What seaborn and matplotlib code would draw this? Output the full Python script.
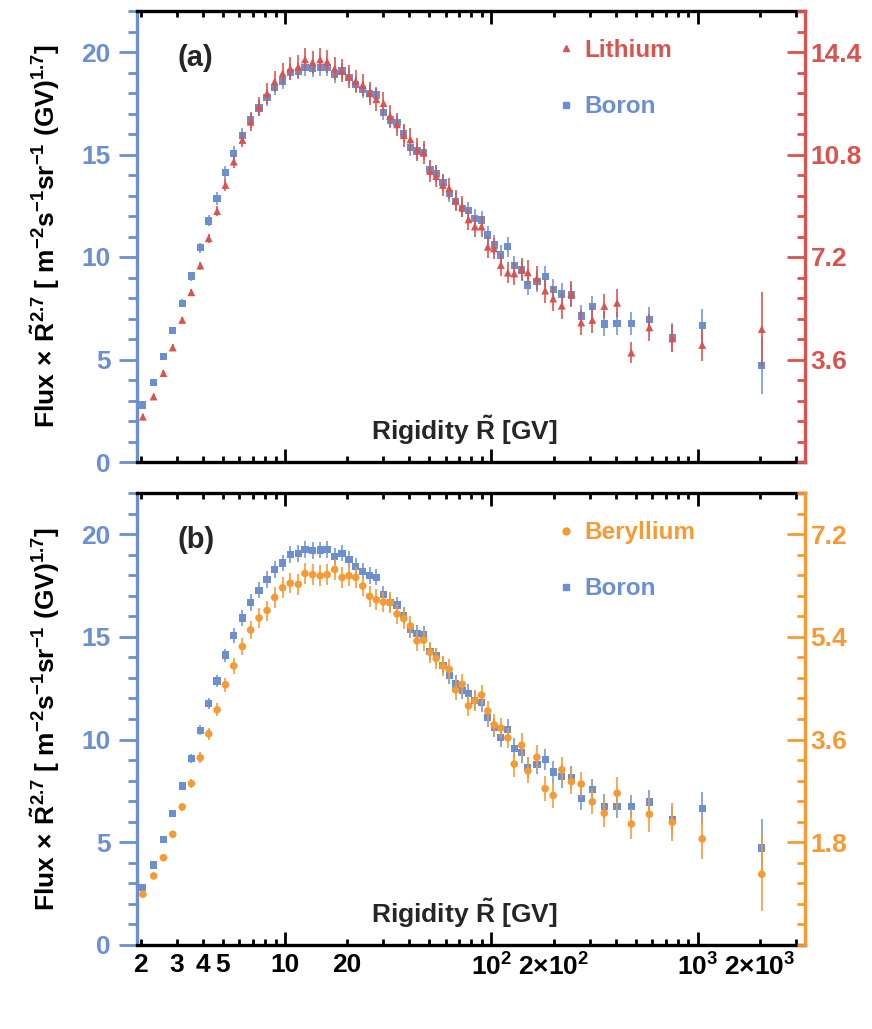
import numpy as np
import pandas as pd
import matplotlib
matplotlib.use("Agg")
import matplotlib.pyplot as plt
import seaborn as sns
from matplotlib.ticker import FixedLocator, FuncFormatter, MultipleLocator, LogLocator, NullFormatter
from matplotlib.lines import Line2D

# ---------------- data ----------------
rigidity = [2.05, 2.31, 2.58, 2.86, 3.18, 3.52, 3.89, 4.27, 4.69, 5.15,
            5.65, 6.22, 6.82, 7.49, 8.19, 8.91, 9.74, 10.6, 11.6, 12.5,
            13.6, 14.8, 16.0, 17.4, 18.9, 20.4, 22.0, 23.8, 25.7, 27.7,
            30.0, 32.3, 34.9, 37.6, 40.5, 43.6, 46.9, 50.4, 54.0, 58.2,
            62.4, 67.0, 72.1, 77.4, 83.1, 89.5, 96.0, 103, 111, 120,
            129, 140, 150, 166, 182, 199, 219, 244, 272, 308,
            352, 406, 476, 582, 751, 1049, 2038]

boron = [2.78, 3.89, 5.14, 6.41, 7.74, 9.07, 10.45, 11.76, 12.85, 14.11,
         15.06, 15.92, 16.68, 17.27, 17.79, 18.28, 18.59, 19.01, 19.06, 19.25,
         19.20, 19.23, 19.25, 18.91, 19.07, 18.77, 18.42, 18.18, 17.98, 17.90,
         17.06, 16.68, 16.55, 16.03, 15.35, 15.17, 15.11, 14.28, 14.08, 13.62,
         13.11, 12.70, 12.38, 12.26, 11.89, 11.80, 11.07, 10.59, 10.10, 10.50,
         9.58, 9.37, 8.63, 8.80, 9.04, 8.42, 8.20, 8.15, 7.12, 7.58,
         6.73, 6.75, 6.75, 6.96, 6.08, 6.65, 4.72]
boron_err = [0.15, 0.15, 0.17, 0.18, 0.20, 0.22, 0.25, 0.27, 0.30, 0.32,
             0.35, 0.37, 0.40, 0.40, 0.40, 0.40, 0.40, 0.40, 0.40, 0.40,
             0.40, 0.40, 0.40, 0.40, 0.40, 0.40, 0.40, 0.40, 0.40, 0.40,
             0.40, 0.40, 0.40, 0.40, 0.40, 0.40, 0.40, 0.40, 0.40, 0.40,
             0.42, 0.42, 0.43, 0.44, 0.45, 0.45, 0.46, 0.47, 0.48, 0.48,
             0.48, 0.50, 0.50, 0.50, 0.52, 0.52, 0.55, 0.55, 0.56, 0.50,
             0.60, 0.55, 0.55, 0.60, 0.70, 0.80, 1.40]

lithium = [1.59, 2.30, 3.12, 4.02, 4.99, 5.96, 6.90, 7.86, 8.81, 9.73,
           10.55, 11.31, 11.95, 12.48, 12.95, 13.36, 13.65, 13.82, 13.88, 14.14,
           14.04, 14.14, 14.06, 13.82, 13.74, 13.54, 13.38, 13.24, 12.95, 12.74,
           12.60, 12.15, 11.86, 11.48, 11.33, 10.98, 10.86, 10.22, 10.04, 9.73,
           9.61, 9.18, 8.97, 8.52, 8.27, 8.27, 7.56, 7.50, 6.92, 6.65,
           6.62, 6.77, 6.66, 6.45, 6.02, 5.74, 5.49, 5.90, 4.90, 4.99,
           5.48, 5.59, 3.84, 4.73, 4.34, 4.11, 4.67]
lithium_err = [0.09, 0.10, 0.10, 0.11, 0.12, 0.13, 0.14, 0.16, 0.18, 0.20,
               0.23, 0.26, 0.32, 0.34, 0.36, 0.37, 0.38, 0.39, 0.40, 0.40,
               0.40, 0.40, 0.40, 0.40, 0.40, 0.40, 0.40, 0.40, 0.40, 0.40,
               0.40, 0.40, 0.40, 0.40, 0.40, 0.40, 0.40, 0.38, 0.38, 0.38,
               0.38, 0.38, 0.38, 0.38, 0.38, 0.38, 0.38, 0.38, 0.38, 0.38,
               0.40, 0.40, 0.42, 0.42, 0.42, 0.42, 0.45, 0.45, 0.45, 0.45,
               0.42, 0.48, 0.36, 0.48, 0.48, 0.56, 1.30]

beryllium = [0.89, 1.21, 1.53, 1.94, 2.42, 2.83, 3.28, 3.70, 4.12, 4.56,
             4.89, 5.23, 5.52, 5.73, 5.86, 6.09, 6.26, 6.34, 6.32, 6.51,
             6.49, 6.47, 6.49, 6.58, 6.44, 6.47, 6.44, 6.29, 6.11, 6.05,
             6.01, 6.00, 5.80, 5.72, 5.59, 5.33, 5.34, 5.13, 5.02, 4.89,
             4.83, 4.47, 4.57, 4.19, 4.28, 4.38, 4.10, 3.86, 3.80, 3.63,
             3.17, 3.50, 3.05, 3.29, 2.74, 2.62, 3.07, 2.86, 2.82, 2.51,
             2.31, 2.66, 2.12, 2.29, 2.15, 1.86, 1.24]
beryllium_err = [0.043, 0.047, 0.054, 0.065, 0.072, 0.080, 0.094, 0.108, 0.115, 0.126,
                 0.144, 0.151, 0.165, 0.170, 0.175, 0.180, 0.180, 0.180, 0.180, 0.180,
                 0.180, 0.180, 0.180, 0.180, 0.180, 0.180, 0.180, 0.180, 0.180, 0.180,
                 0.180, 0.180, 0.180, 0.180, 0.180, 0.180, 0.180, 0.180, 0.180, 0.180,
                 0.180, 0.180, 0.180, 0.180, 0.180, 0.180, 0.180, 0.180, 0.180, 0.180,
                 0.220, 0.220, 0.220, 0.220, 0.220, 0.220, 0.220, 0.220, 0.220, 0.220,
                 0.240, 0.290, 0.270, 0.310, 0.330, 0.360, 0.650]

xtick_values = [2, 3, 4, 5, 10, 20, 100, 200, 1000, 2000]
xtick_labels = ["2", "3", "4", "5", "10", "20", r"$10^{2}$", r"$2{\times}10^{2}$",
                r"$10^{3}$", r"$2{\times}10^{3}$"]
left_ticks = [0, 5, 10, 15, 20]
li_ticks = [3.6, 7.2, 10.8, 14.4]
be_ticks = [1.8, 3.6, 5.4, 7.2]

BLUE = "#6b8fd0"
RED = "#d9534f"
ORANGE = "#f79a33"

# ---------------- style ----------------
sns.set_theme(style="ticks")
plt.rcParams["font.family"] = ["Liberation Sans", "DejaVu Sans"]
plt.rcParams["font.weight"] = "bold"
plt.rcParams["mathtext.fontset"] = "custom"
plt.rcParams["mathtext.rm"] = "Liberation Sans:bold"
plt.rcParams["mathtext.it"] = "Liberation Sans:bold"
plt.rcParams["mathtext.bf"] = "Liberation Sans:bold"
plt.rcParams["mathtext.sf"] = "Liberation Sans:bold"
plt.rcParams["mathtext.default"] = "rm"

FS = 19
LFS = 17.5

df = pd.DataFrame({"R": rigidity, "B": boron, "Berr": boron_err,
                   "Li": lithium, "Lierr": lithium_err,
                   "Be": beryllium, "Beerr": beryllium_err})

label_map = dict(zip(xtick_values, xtick_labels))


def xfmt(v, pos):
    for val, lab in label_map.items():
        if abs(np.log10(v) - np.log10(val)) < 1e-6:
            return lab
    return ""


fig = plt.figure(figsize=(8.72, 10.29), dpi=100)
W, H = 872.0, 1029.0
ax_top = fig.add_axes([137 / W, 1 - 462 / H, 668 / W, 451 / H])
ax_bot = fig.add_axes([137 / W, 1 - 945 / H, 668 / W, 452 / H])


def panel(ax, col, err, color, marker, msize, name, scale, sec_ticks, tag, show_x):
    ax.set_xscale("log")
    ax.errorbar(df["R"], df["B"], yerr=df["Berr"], fmt="none", ecolor=BLUE,
                elinewidth=1.3, alpha=0.85, zorder=2)
    sns.scatterplot(data=df, x="R", y="B", ax=ax, marker="s", s=27, color=BLUE,
                    edgecolor="none", linewidth=0, zorder=3)
    ax.set_xlim(1.92, 3300)
    ax.set_ylim(0, 22)
    ax.set_yticks(left_ticks)
    ax.yaxis.set_minor_locator(MultipleLocator(1))
    ax.tick_params(axis="y", which="both", direction="out", left=True, right=False,
                   colors=BLUE, width=2, labelsize=FS, pad=6)
    ax.tick_params(axis="y", which="major", length=13)
    ax.tick_params(axis="y", which="minor", length=6.5)
    ax.xaxis.set_major_locator(FixedLocator([10, 100, 1000]))
    ax.xaxis.set_minor_locator(LogLocator(base=10, subs=np.arange(2, 10), numticks=50))
    if show_x:
        ax.xaxis.set_major_formatter(FuncFormatter(xfmt))
        ax.xaxis.set_minor_formatter(FuncFormatter(xfmt))
    else:
        ax.xaxis.set_major_formatter(NullFormatter())
        ax.xaxis.set_minor_formatter(NullFormatter())
    ax.tick_params(axis="x", which="both", direction="in", top=True, bottom=True,
                   color="black", width=2, labelsize=FS, labelcolor="black", pad=6)
    ax.tick_params(axis="x", which="major", length=9.5)
    ax.tick_params(axis="x", which="minor", length=4.5)
    for s in ("top", "bottom"):
        ax.spines[s].set_color("black")
        ax.spines[s].set_linewidth(2.4)
    ax.spines["left"].set_color(BLUE)
    ax.spines["left"].set_linewidth(2.4)
    ax.spines["right"].set_visible(False)
    ax.set_xlabel("")
    ax.set_ylabel(r"Flux$\,\times\,\tilde{R}^{2.7}$ [ m$^{-2}$s$^{-1}$sr$^{-1}$ (GV)$^{1.7}$]",
                  fontsize=FS, fontweight="bold", color="black")
    ax.yaxis.set_label_coords(-0.113, 0.5)
    ax.text(0.49, 0.07, r"Rigidity $\tilde{R}$ [GV]", transform=ax.transAxes,
            ha="center", va="center", fontsize=FS, fontweight="bold")
    ax.text(0.088, 0.896, tag, transform=ax.transAxes, ha="center", va="center",
            fontsize=21, fontweight="bold")

    ax2 = ax.twinx()
    ax2.errorbar(df["R"], df[col], yerr=df[err], fmt="none", ecolor=color,
                 elinewidth=1.3, alpha=0.9, zorder=2)
    sns.scatterplot(data=df, x="R", y=col, ax=ax2, marker=marker, s=msize, color=color,
                    edgecolor="none", linewidth=0, zorder=3)
    ax2.set_ylim(0, 22 * scale)
    ax2.set_yticks(sec_ticks)
    ax2.yaxis.set_minor_locator(MultipleLocator(sec_ticks[0] / 5))
    ax2.tick_params(axis="y", which="both", direction="in", right=True, left=False,
                    colors=color, width=2, labelsize=FS, pad=4)
    ax2.tick_params(axis="y", which="major", length=13)
    ax2.tick_params(axis="y", which="minor", length=6)
    ax2.spines["right"].set_color(color)
    ax2.spines["right"].set_linewidth(2.4)
    for s in ("left", "top", "bottom"):
        ax2.spines[s].set_visible(False)
    ax2.set_ylabel("")
    ax2.set_xlim(1.92, 3300)

    handles = [Line2D([], [], ls="none", marker=marker, color=color, markersize=5),
               Line2D([], [], ls="none", marker="s", color=BLUE, markersize=5)]
    ax2.legend(handles, [name, "Boron"], loc="upper left", bbox_to_anchor=(0.624, 0.938),
               frameon=False, labelcolor=[color, BLUE], handlelength=1.0,
               handletextpad=0.25, labelspacing=1.36, borderaxespad=0, borderpad=0,
               prop={"weight": "bold", "size": LFS})


panel(ax_top, "Li", "Lierr", RED, "^", 32, "Lithium", 0.72, li_ticks, "(a)", False)
panel(ax_bot, "Be", "Beerr", ORANGE, "o", 30, "Beryllium", 0.36, be_ticks, "(b)", True)

fig.savefig("out.png", dpi=100)
